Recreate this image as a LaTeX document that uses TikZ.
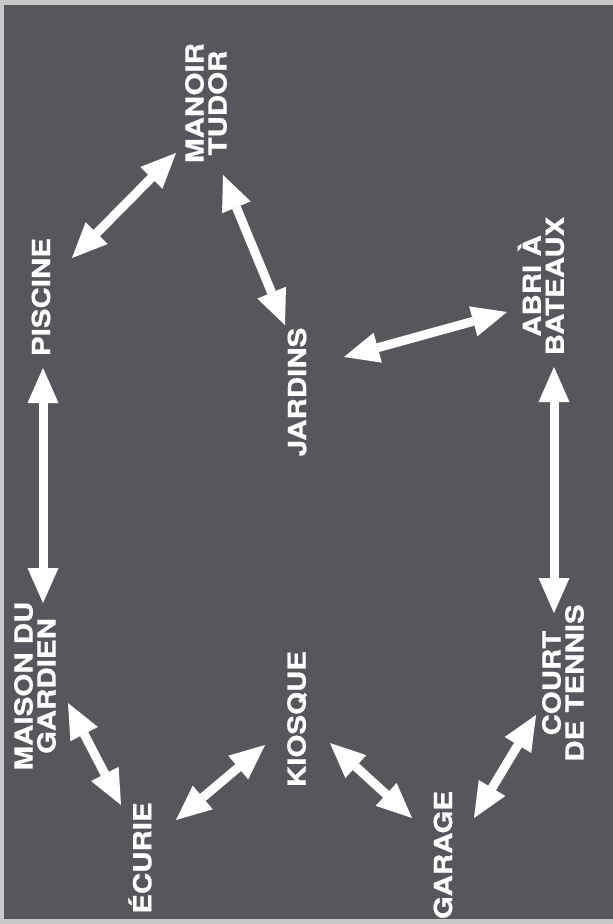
\documentclass[tikz,border=0pt]{standalone}
\usepackage{fontspec}
\newfontfamily\labfont[FakeStretch=1.18,FakeBold=0.7]{TeX Gyre Heros}
\usetikzlibrary{arrows.meta}
\definecolor{bg}{RGB}{87,86,92}
\definecolor{edgegray}{RGB}{200,200,200}
\tikzset{
  place/.style={rotate=90, text=white, inner sep=0pt, align=center,
    font=\labfont\bfseries\fontsize{25}{23}\selectfont},
  link/.style={draw=white, line width=9pt,
    {Triangle[width=31pt,length=35pt,line width=0pt]}-{Triangle[width=31pt,length=35pt,line width=0pt]}},
}
\begin{document}
\begin{tikzpicture}[x=1pt,y=-1pt]
\fill[edgegray] (0,0) rectangle (613,924);
\fill[bg] (4,5) rectangle (613,919);
\useasboundingbox (0,0) rectangle (613,924);

\node[place] (manoir) at (206,103) {MANOIR\\TUDOR};
\node[place] (piscine) at (41,297) {PISCINE};
\node[place] (abri) at (541,286) {ABRI À\\BATEAUX};
\node[place] (jardins) at (297,392) {JARDINS};
\node[place] (maison) at (35,686) {MAISON DU\\GARDIEN};
\node[place] (ecurie) at (140,858) {ÉCURIE};
\node[place] (kiosque) at (297,719) {KIOSQUE};
\node[place] (garage) at (443,855) {GARAGE};
\node[place] (court) at (563,683) {COURT\\DE TENNIS};

\coordinate (pm-a) at (72,258);  \coordinate (pm-b) at (176,153);
\coordinate (mj-a) at (223,175); \coordinate (mj-b) at (285,325);
\coordinate (ja-a) at (344,357); \coordinate (ja-b) at (507,312);
\coordinate (pg-a) at (43,368);  \coordinate (pg-b) at (43,603);
\coordinate (ac-a) at (554,367); \coordinate (ac-b) at (554,613);
\coordinate (ge-a) at (68,703);  \coordinate (ge-b) at (121,805);
\coordinate (ek-a) at (176,820); \coordinate (ek-b) at (265,745);
\coordinate (kg-a) at (330,743); \coordinate (kg-b) at (412,818);
\coordinate (gc-a) at (474,818); \coordinate (gc-b) at (536,715);

\draw[link] (pm-a) -- (pm-b);
\draw[link] (mj-a) -- (mj-b);
\draw[link] (ja-a) -- (ja-b);
\draw[link] (pg-a) -- (pg-b);
\draw[link] (ac-a) -- (ac-b);
\draw[link] (ge-a) -- (ge-b);
\draw[link] (ek-a) -- (ek-b);
\draw[link] (kg-a) -- (kg-b);
\draw[link] (gc-a) -- (gc-b);
\end{tikzpicture}
\end{document}
